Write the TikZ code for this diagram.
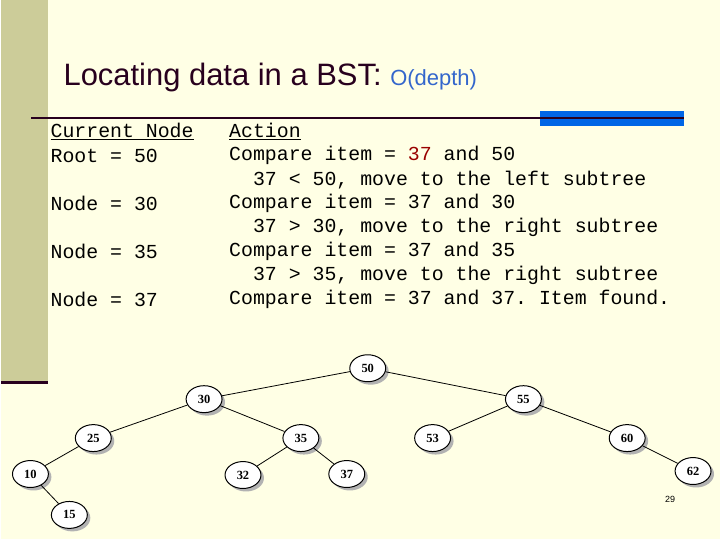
\documentclass[tikz,border=0pt]{standalone}
\usepackage{fontspec}
\setmainfont{Liberation Sans}
\newfontfamily\mono{Liberation Mono}
\newfontfamily\serf{Liberation Serif}
\usetikzlibrary{shapes.geometric}
\definecolor{bg}{RGB}{255,255,229}
\definecolor{olive}{RGB}{204,204,153}
\definecolor{darkp}{RGB}{40,0,30}
\definecolor{bl}{RGB}{0,102,230}
\definecolor{ttl}{RGB}{51,102,204}
\definecolor{rd}{RGB}{153,0,0}
\begin{document}
\frenchspacing
\begin{tikzpicture}[x=1pt,y=-1pt,
 bn/.style={ellipse,draw,line width=1pt,fill=white,minimum width=36pt,minimum height=27pt,inner sep=0pt,font=\serf\bfseries\fontsize{12.5}{12.5}\selectfont},
 txt/.style={anchor=west,font=\mono\fontsize{19.9}{20}\selectfont,inner sep=0pt}]
\path[fill=bg] (0,0) rectangle (720,540);
\fill[olive] (0,0) rectangle (47,383);
\draw[darkp,line width=3pt] (0,383) -- (47,383);
\fill[bl] (540,111) rectangle (684,126);
\draw[darkp,line width=2.5pt] (30,118) -- (684,118);
\node[anchor=base west,inner sep=0pt] (title) at (62,86) {\fontsize{31}{31}\selectfont\color{darkp}Locating data in a BST: \fontsize{22}{22}\selectfont\color{ttl}O(depth)};
\foreach \y/\a/\b in {132/{\underline{Current Node}}/{\underline{Action}},
 156/{Root = 50}/{Compare item = {\color{rd}37} and 50},
 180/{}/{\ \ 37 < 50, move to the left subtree},
 204/{Node = 30}/{Compare item = 37 and 30},
 228/{}/{\ \ 37 > 30, move to the right subtree},
 252/{Node = 35}/{Compare item = 37 and 35},
 276/{}/{\ \ 37 > 35, move to the right subtree},
 300/{Node = 37}/{Compare item = 37 and 37. Item found.}}
 {\node[txt] at (49,\y) {\a}; \node[txt] at (228,\y) {\b};}
\foreach \n/\x/\y in {50/367/369,30/203/400,55/523/400,25/92/439,35/300/439,53/432/439,60/627/439,10/29/475,32/242/476,37/346/475,62/693/472,15/68/516}
 {\fill[gray!60] (\x+3,\y+3) ellipse (18pt and 13.5pt);
  \node[bn] (n\n) at (\x,\y) {\n};}
\foreach \a/\b in {50/30,50/55,30/25,30/35,55/53,55/60,25/10,35/32,35/37,60/62,10/15}
 \draw[line width=0.8pt] (n\a) -- (n\b);
\node[font=\fontsize{9}{9}\selectfont] (pg) at (670,500) {29};
\end{tikzpicture}
\end{document}
